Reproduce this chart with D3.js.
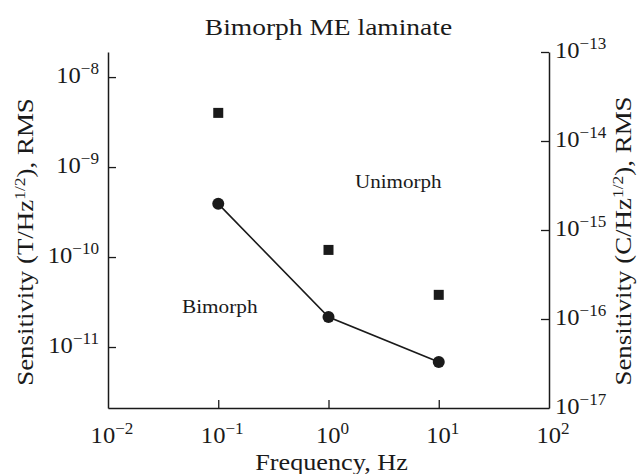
<!DOCTYPE html>
<html>
<head>
<meta charset="utf-8">
<script src="https://cdn.jsdelivr.net/npm/d3@7"></script>
<style>
  html, body { margin: 0; padding: 0; background: #fff; }
  svg { display: block; }
  text { font-family: "Liberation Serif", "Times New Roman", serif; fill: #1a1a1a; }
</style>
</head>
<body>
<svg id="chart" width="639" height="474"></svg>
<script>
// ---- data ----
const frequencies = [0.1, 1, 10];
const unimorphValues = [4.0e-9, 1.2e-10, 3.8e-11];
const bimorphValues = [3.9e-10, 2.15e-11, 6.8e-12];
const xTickExps = [-2, -1, 0, 1, 2];
const leftTickExps = [-8, -9, -10, -11];
const rightTickExps = [-13, -14, -15, -16, -17];
const leftDomain = [2.1e-12, 1.9e-8];
const rightDomain = [1e-17, 1e-13];
const xDomain = [1e-2, 1e2];
const titleText = "Bimorph ME laminate";
const xLabelText = "Frequency, Hz";

// ---- layout ----
const L = 108, R = 549, T = 52, B = 408;
const ink = "#1a1a1a";

const svg = d3.select("#chart");
const x = d3.scaleLog().domain(xDomain).range([L, R]);
const yL = d3.scaleLog().domain(leftDomain).range([B, T]);
const yR = d3.scaleLog().domain(rightDomain).range([B, T]);

function styleAxis(g) {
  g.select(".domain").attr("stroke", ink).attr("stroke-width", 1.5);
  g.selectAll(".tick line").attr("stroke", ink).attr("stroke-width", 1.3);
  g.selectAll(".tick text").remove();
}

// axes
svg.append("g").attr("transform", `translate(0,${B})`)
  .call(d3.axisBottom(x).tickValues(frequencies).tickSize(-8).tickSizeOuter(0).tickFormat(""))
  .call(styleAxis);
svg.append("g").attr("transform", `translate(${L},0)`)
  .call(d3.axisLeft(yL).tickValues(leftTickExps.map(e => Math.pow(10, e))).tickSize(-8).tickSizeOuter(0).tickFormat(""))
  .call(styleAxis);
svg.append("g").attr("transform", `translate(${R},0)`)
  .call(d3.axisRight(yR).tickValues(rightTickExps.filter(e => e > -17).map(e => Math.pow(10, e))).tickSize(-8).tickSizeOuter(0).tickFormat(""))
  .call(styleAxis);

// stretched text helper (reference font is wider than Times)
function sText(px, py, size, sx, anchor, rot) {
  return svg.append("text")
    .attr("transform", `translate(${px},${py})` + (rot ? ` rotate(${rot})` : "") + ` scale(${sx},1)`)
    .attr("text-anchor", anchor).attr("font-size", size);
}

function powLabel(sel, e) {
  sel.append("tspan").text("10");
  sel.append("tspan").attr("dy", -9).attr("font-size", 16).text(e < 0 ? "\u2212" + (-e) : String(e));
}

// tick labels
xTickExps.forEach(e => powLabel(sText(x(Math.pow(10, e)) + 4, 443, 23, 1.07, "middle"), e));
leftTickExps.forEach(e => powLabel(sText(99, yL(Math.pow(10, e)) + 6, 23, 1.07, "end"), e));
rightTickExps.forEach(e => powLabel(sText(555, yR(Math.pow(10, e)) + 6, 23, 1.07, "start"), e));

// title and axis labels
sText((L + R) / 2, 35, 23.5, 1.17, "middle").text(titleText);
sText((L + R) / 2 + 3, 470, 23, 1.14, "middle").text(xLabelText);

function sensLabel(xPos, yPos, unit) {
  const t = sText(xPos, yPos, 23, 1.17, "middle", -90);
  t.append("tspan").text(`Sensitivity (${unit}/Hz`);
  t.append("tspan").attr("dy", -8).attr("font-size", 15).text("1/2");
  t.append("tspan").attr("dy", 8).text("), RMS");
}
sensLabel(33, 242, "T");
sensLabel(631, 241, "C");

// annotations
sText(355, 188, 19.5, 1.08, "start").text("Unimorph");
sText(182, 313, 19.5, 1.09, "start").text("Bimorph");

// bimorph line + circles
const bim = frequencies.map((f, i) => ({ f, v: bimorphValues[i] }));
svg.append("path").datum(bim)
  .attr("d", d3.line().x(d => x(d.f)).y(d => yL(d.v)))
  .attr("fill", "none").attr("stroke", ink).attr("stroke-width", 1.6);
svg.selectAll("circle.bim").data(bim).enter().append("circle")
  .attr("cx", d => x(d.f)).attr("cy", d => yL(d.v)).attr("r", 6).attr("fill", ink);

// unimorph squares
const uni = frequencies.map((f, i) => ({ f, v: unimorphValues[i] }));
const s = 10;
svg.selectAll("rect.uni").data(uni).enter().append("rect")
  .attr("x", d => x(d.f) - s / 2).attr("y", d => yL(d.v) - s / 2)
  .attr("width", s).attr("height", s).attr("fill", ink);
</script>
</body>
</html>
